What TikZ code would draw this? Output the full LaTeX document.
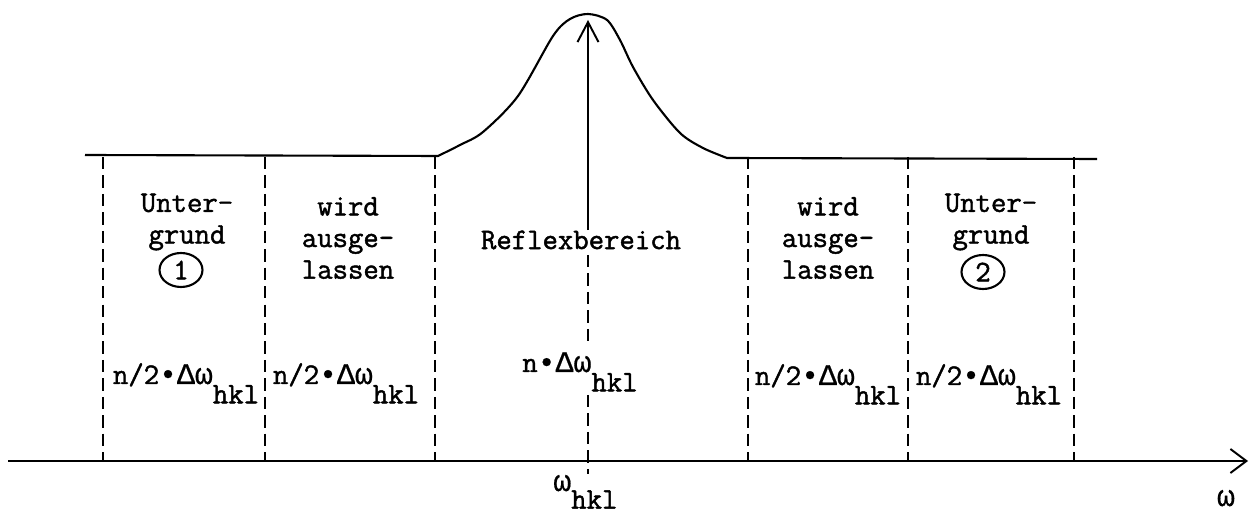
\documentclass[tikz,border=0pt]{standalone}
\usepackage{fontspec}
\newfontfamily\schreib[FakeBold=1.5]{Latin Modern Mono}
\newfontfamily\griech[FakeBold=0.6]{Liberation Mono}
\usetikzlibrary{arrows.meta,positioning,shapes.geometric}
\newcommand{\tief}[1]{\raisebox{-11pt}{#1}}
\newcommand{\dw}{{\griech•Δω}}

\begin{document}
\begin{tikzpicture}[
  x=0.02cm, y=-0.02cm,
  font=\fontsize{17}{18}\selectfont\schreib,
  lbl/.style={align=center, inner sep=0pt},
  nummer/.style={ellipse, draw, line width=1.2pt, minimum width=0.86cm,
                 minimum height=0.68cm, inner sep=0pt},
  grenze/.style={dash pattern=on 7pt off 3.5pt, line width=1.1pt},
  kurve/.style={line width=1.2pt},
  pfeil/.style={-{Straight Barb[length=4mm,width=4.2mm]}, line width=1.1pt},
  achse/.style={-{Straight Barb[length=3.2mm,width=4.8mm]}, line width=1.1pt}
]
  \useasboundingbox (0,0) rectangle (1249,516);

  \coordinate (a0) at (8,461);
  \coordinate (a1) at (1248,461);
  \coordinate (spitze) at (588,20);

  \draw[kurve] (85,155) -- plot[smooth] coordinates {(438,156) (460,145)
    (483,132) (518,96) (553,36) (570,19) (588,14) (607,20) (620,40)
    (633,67) (653,100) (680,133) (703,148) (727,158)} -- (1097,159);

  \foreach \x in {103,265,435,748,908,1074}
    \draw[grenze] (\x,157) -- (\x,461);
  \draw[grenze] (588,255) -- (588,345);
  \draw[grenze] (588,395) -- (588,474);

  \draw[achse] (a0) -- (a1);

  \node[lbl] (ug1) at (187,222) {Unter-\\grund};
  \node[nummer] (n1) at (181,270) {1};
  \node[lbl] (wa1) at (348,238) {wird\\ausge-\\lassen};
  \node[lbl] (reflex) at (581,240) {Reflexbereich};
  \node[lbl] (wa2) at (828,238) {wird\\ausge-\\lassen};
  \node[lbl] (ug2) at (991,222) {Unter-\\grund};
  \node[nummer] (n2) at (983,272) {2};

  \draw[pfeil] (reflex.north -| spitze) -- (spitze);

  \node[lbl, anchor=base] (b1) at (186,384) {n/2\dw\tief{hkl}};
  \node[lbl, anchor=base] (b2) at (346,384) {n/2\dw\tief{hkl}};
  \node[lbl, anchor=base] (b3) at (580,372) {n\dw\tief{hkl}};
  \node[lbl, anchor=base] (b4) at (828,385) {n/2\dw\tief{hkl}};
  \node[lbl, anchor=base] (b5) at (989,385) {n/2\dw\tief{hkl}};

  \node[lbl, anchor=base west] (whkl) at (553,491) {{\griech ω}\raisebox{-10pt}{hkl}};
  \node[lbl, anchor=base] (omega) at (1226,506) {\griech ω};
\end{tikzpicture}
\end{document}
